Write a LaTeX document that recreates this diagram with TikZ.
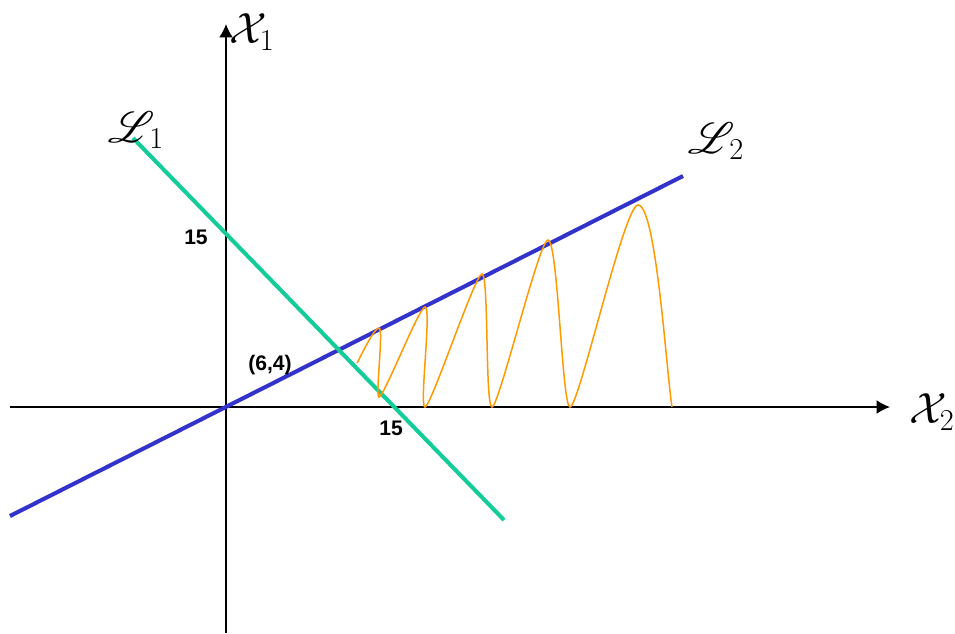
\documentclass[tikz,border=0pt]{standalone}
\usepackage{fontspec}
\usepackage{mathrsfs}
\usepackage{pdfrender}
\usetikzlibrary{arrows.meta}
\newfontfamily\lblfont{Liberation Sans}
\definecolor{lineone}{RGB}{20,204,153}
\definecolor{linetwo}{RGB}{51,51,204}
\definecolor{wave}{RGB}{255,153,0}
\newcommand\heavy[1]{\textpdfrender{TextRenderingMode=FillStroke,LineWidth=1.1pt}{#1}}

\begin{document}
\begin{tikzpicture}[x=0.02cm,y=0.02cm,line width=0.9pt,
    axis/.style={-{Latex[length=0.27cm,width=0.28cm]}},
    num/.style={inner sep=0pt,font=\lblfont\bfseries\fontsize{12}{14}\selectfont},
    sym/.style={inner sep=0pt,font=\fontsize{24}{28}\selectfont}]
  \useasboundingbox (-226,-226) rectangle (729,407);
  \coordinate (xa) at (-216,0);   \coordinate (xb) at (664,0);
  \coordinate (ya) at (0,-226);   \coordinate (yb) at (0,383);
  \coordinate (la) at (-93,269);  \coordinate (lb) at (278,-113);
  \coordinate (ma) at (-216,-109);\coordinate (mb) at (457,231);
  \draw[axis] (xa) -- (xb);
  \draw[axis] (ya) -- (yb);
  \draw[linetwo,line width=2.3pt] (ma) -- (mb);
  \draw[lineone,line width=2.3pt] (la) -- (lb);
  % wave under L2
  \draw[wave,line width=0.85pt] (131,44)
    .. controls (136,53) and (148,79) .. (153,79)
    .. controls (158,79) and (149,10) .. (153,10)
    .. controls (158,10) and (193,100) .. (199,100)
    .. controls (206,100) and (193,0) .. (199,0)
    .. controls (205,0) and (249,133) .. (256,133)
    .. controls (263,133) and (259,0) .. (266,0)
    .. controls (273,0) and (313,167) .. (322,167)
    .. controls (332,167) and (336,0) .. (344,0)
    .. controls (353,0) and (398,202) .. (412,202)
    .. controls (430,202) and (440,40) .. (446,0);
  \node[sym] (xone) at (26,375) {\heavy{$\mathcal{X}$}\kern-4pt$_1$};
  \node[sym] (xtwo) at (706,-5) {\heavy{$\mathcal{X}$}\kern-4pt$_2$};
  \node[sym] (lone) at (-90,277) {\heavy{$\mathscr{L}$}\kern-3pt$_1$};
  \node[sym] (ltwo) at (490,266) {\heavy{$\mathscr{L}$}\kern-3pt$_2$};
  \node[num] (yfif) at (-30,170) {15};
  \node[num] (xfif) at (165,-21) {15};
  \node[num] (meet) at (44,42) {(6,4)};
\end{tikzpicture}
\end{document}
